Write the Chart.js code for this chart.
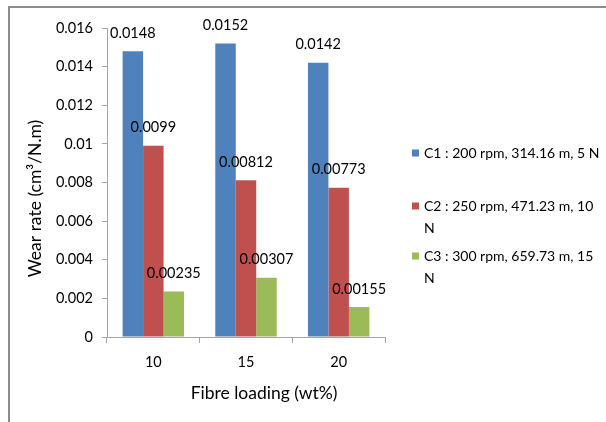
<!DOCTYPE html>
<html>
<head>
<meta charset="utf-8">
<script src="https://cdn.jsdelivr.net/npm/chart.js@4"></script>
<style>
  html, body { margin: 0; padding: 0; background: #fff; }
  #frame {
    position: absolute; left: 8px; top: 6px; width: 610px; height: 430px;
    border-top: 2px solid #8c8c8c; border-left: 2px solid #8c8c8c;
  }
  #wrap { position: absolute; left: 0; top: 0; width: 606px; height: 422px; }
</style>
</head>
<body>
<div id="frame"></div>
<div id="wrap"><canvas id="myChart" width="606" height="422"></canvas></div>
<script>
const categories = ["10", "15", "20"];
const seriesNames = [
  "C1 : 200 rpm, 314.16 m, 5 N",
  "C2 : 250 rpm, 471.23 m, 10 N",
  "C3 : 300 rpm, 659.73 m, 15 N",
];
const c1Values = [0.0148, 0.0152, 0.0142];
const c2Values = [0.0099, 0.00812, 0.00773];
const c3Values = [0.00235, 0.00307, 0.00155];
const seriesColors = ["#4F81BD", "#C0504D", "#9BBB59"];
const yTicks = [0, 0.002, 0.004, 0.006, 0.008, 0.01, 0.012, 0.014, 0.016];
const xTitle = "Fibre loading (wt%)";
const yTitle = "Wear rate (cm³/N.m)";

const FONT = "Lato, 'Open Sans', sans-serif";

// value labels above each bar
const barLabels = {
  id: "barLabels",
  afterDatasetsDraw(chart) {
    const ctx = chart.ctx;
    ctx.save();
    ctx.font = "14.5px " + FONT;
    ctx.fillStyle = "#000";
    ctx.textAlign = "center";
    ctx.textBaseline = "middle";
    chart.data.datasets.forEach((ds, i) => {
      chart.getDatasetMeta(i).data.forEach((bar, j) => {
        ctx.fillText(String(ds.data[j]), bar.x, bar.y - 18);
      });
    });
    ctx.restore();
  },
};

// axis titles, placed like the excel original (a bit off-centre)
const axisTitles = {
  id: "axisTitles",
  afterDraw(chart) {
    const ctx = chart.ctx;
    const a = chart.chartArea;
    ctx.save();
    ctx.font = "17.5px " + FONT;
    ctx.fillStyle = "#000";
    ctx.textAlign = "center";
    ctx.textBaseline = "middle";
    ctx.fillText(xTitle, (a.left + a.right) / 2 + 18, 393);
    ctx.translate(35, (a.top + a.bottom) / 2 + 16);
    ctx.rotate(-Math.PI / 2);
    ctx.fillText(yTitle, 0, 0);
    ctx.restore();
  },
};

// legend on the right with wrapped text
const sideLegend = {
  id: "sideLegend",
  afterDraw(chart) {
    const ctx = chart.ctx;
    const left = 412, textX = 424, maxW = 181;
    const rowY = [153, 206, 256];
    ctx.save();
    ctx.font = "14px " + FONT;
    ctx.textBaseline = "middle";
    chart.data.datasets.forEach((ds, i) => {
      const words = ds.label.split(" ");
      const lines = [];
      let cur = "";
      words.forEach((w) => {
        const t = cur ? cur + " " + w : w;
        if (ctx.measureText(t).width > maxW && cur) {
          lines.push(cur);
          cur = w;
        } else cur = t;
      });
      lines.push(cur);
      ctx.fillStyle = ds.backgroundColor;
      ctx.fillRect(left, rowY[i] - 3.5, 7, 7);
      ctx.fillStyle = "#000";
      lines.forEach((ln, k) => ctx.fillText(ln, textX, rowY[i] + k * 22));
    });
    ctx.restore();
  },
};

new Chart(document.getElementById("myChart"), {
  type: "bar",
  data: {
    labels: categories,
    datasets: [c1Values, c2Values, c3Values].map((vals, i) => ({
      label: seriesNames[i],
      data: vals,
      backgroundColor: seriesColors[i],
      borderWidth: 0,
      categoryPercentage: 0.663,
      barPercentage: 1,
    })),
  },
  options: {
    responsive: false,
    animation: false,
    layout: { padding: { left: 20, top: 28, right: 221, bottom: 15 } },
    plugins: { legend: { display: false }, tooltip: { enabled: false } },
    scales: {
      x: {
        afterFit: (s) => { s.height = 70; },
        border: { color: "#a6a6a6", width: 1 },
        grid: { drawOnChartArea: false, tickLength: 6, color: "#a6a6a6" },
        ticks: { color: "#000", font: { family: FONT, size: 14.5 }, padding: 11 },
      },
      y: {
        min: 0,
        max: 0.016,
        afterFit: (s) => { s.width = 87; },
        afterBuildTicks: (s) => { s.ticks = yTicks.map((v) => ({ value: v })); },
        border: { color: "#a6a6a6", width: 1 },
        grid: { drawOnChartArea: false, tickLength: 5, color: "#a6a6a6" },
        ticks: {
          color: "#000",
          font: { family: FONT, size: 14.5 },
          padding: 9,
          callback: (v) => String(+v.toFixed(3)),
        },
      },
    },
  },
  plugins: [barLabels, axisTitles, sideLegend],
});
</script>
</body>
</html>
